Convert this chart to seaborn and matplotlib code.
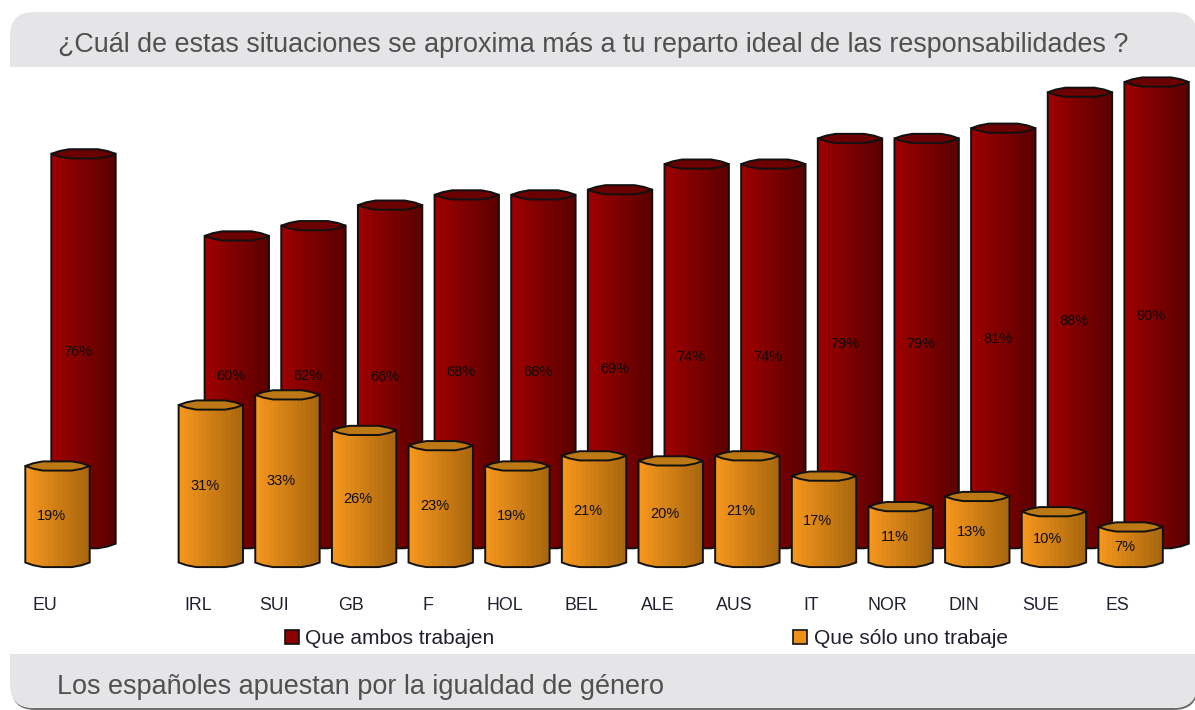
import numpy as np
import pandas as pd
import matplotlib
matplotlib.use("Agg")
import matplotlib.pyplot as plt
import seaborn as sns
from matplotlib.patches import FancyBboxPatch, Rectangle, PathPatch, Polygon, Patch
from matplotlib.path import Path
from matplotlib.colors import LinearSegmentedColormap
from matplotlib.transforms import ScaledTranslation

# ---- data ----
categories = ["EU", " ", "IRL", "SUI", "GB", "F", "HOL", "BEL", "ALE", "AUS", "IT", "NOR", "DIN", "SUE", "ES"]
ambos = [76, None, 60, 62, 66, 68, 68, 69, 74, 74, 79, 79, 81, 88, 90]
uno = [19, None, 31, 33, 26, 23, 19, 21, 20, 21, 17, 11, 13, 10, 7]
series_names = ["Que ambos trabajen", "Que sólo uno trabaje"]
title_text = "¿Cuál de estas situaciones se aproxima más a tu reparto ideal de las responsabilidades ?"
footer_text = "Los españoles apuestan por la igualdad de género"

# label lifts (points) for the back series where the original moved labels clear of the front bars
back_label_lift = {"IRL": 12, "SUI": 8}

W, H = 1195, 710
sns.set_theme(style="white")
plt.rcParams["font.family"] = ["Liberation Sans", "DejaVu Sans"]
fig = plt.figure(figsize=(W / 100, H / 100), dpi=100, facecolor="white")

# ---- card chrome (pixel space) ----
bg = fig.add_axes([0, 0, 1, 1], zorder=0)
bg.set_xlim(0, W); bg.set_ylim(H, 0); bg.axis("off")
style = "round,pad=0,rounding_size=24"
bg.add_patch(FancyBboxPatch((11, 14), 1187, 696, boxstyle=style, fc="#6f6f6f", ec="none"))
card = FancyBboxPatch((10, 12), 1187, 696, boxstyle=style, fc="white", ec="none")
bg.add_patch(card)
for y0, y1 in ((12, 67), (654, 708)):
    r = Rectangle((0, y0), W, y1 - y0, fc="#e5e5e7", ec="none")
    bg.add_patch(r)
    r.set_clip_path(card)
bg.text(58, 44.5, title_text, fontsize=19.32, color="#505050", va="center", ha="left")
bg.text(57, 686.5, footer_text, fontsize=19.45, color="#505050", va="center", ha="left")

SLOT = 76.65
CAP = 4.6
LOW = 3  # data units kept below zero so the rounded foot of each cylinder stays inside the axes
RIM_X = np.array([1, .75, .45, -.45, -.75, -1])
RIM_Y = np.array([0, .6, 1, 1, .6, 0])


def series_axes(center0, base_px, px_per_unit, z):
    left = center0 - SLOT / 2
    height = (100 + LOW) * px_per_unit
    bottom_px = base_px + LOW * px_per_unit
    ax = fig.add_axes([left / W, (H - bottom_px) / H, SLOT * len(categories) / W, height / H], zorder=z)
    ax.patch.set_alpha(0)
    return ax


def draw_series(ax, values, c_left, c_right, c_cap, unit, lifts, dx, dy_label):
    df = pd.DataFrame({"cat": categories, "val": values}).dropna()
    sns.barplot(data=df, x="cat", y="val", order=categories, color=c_left, width=0.84,
                ax=ax, saturation=1, errorbar=None)
    ax.set_xlabel(""); ax.set_ylabel("")
    sns.despine(ax=ax, left=True, bottom=True)
    ax.set_yticks([])
    ax.grid(False)
    cmap = LinearSegmentedColormap.from_list("c", [c_left, c_right])
    grad = np.linspace(0, 1, 14).reshape(1, -1)
    dy = CAP / unit
    for p in ax.patches:
        x0, w, h = p.get_x(), p.get_width(), p.get_height()
        xc = x0 + w / 2
        p.set_visible(False)
        bot = [(xc + w / 2 * a, -dy * b) for a, b in zip(RIM_X[::-1], RIM_Y[::-1])]
        verts = [(x0, h)] + bot + [(x0 + w, h), (x0, h)]
        codes = [Path.MOVETO] + [Path.LINETO] * (len(verts) - 2) + [Path.CLOSEPOLY]
        body = PathPatch(Path(verts, codes), fc="none", ec="#111111", lw=1.4, zorder=3, clip_on=False)
        ax.add_patch(body)
        im = ax.imshow(grad, extent=(x0, x0 + w, -2 * dy, h), aspect="auto", cmap=cmap,
                       interpolation="nearest", zorder=2)
        im.set_clip_path(body)
        rim = [(xc + w / 2 * a, h - dy * b) for a, b in zip(RIM_X, RIM_Y)] + \
              [(xc + w / 2 * a, h + dy * b) for a, b in zip(RIM_X[::-1], RIM_Y[::-1])]
        ax.add_patch(Polygon(rim, closed=True, fc=c_cap, ec="#111111", lw=1.4, zorder=4, clip_on=False))
    ax.set_xlim(-0.5, len(categories) - 0.5)
    ax.set_ylim(-LOW, 100)
    labels = ax.bar_label(ax.containers[0], fmt="%d%%", label_type="center",
                          fontsize=10.5, color="#0c0c0c", zorder=6)
    names = df["cat"].tolist()
    for t, name in zip(labels, names):
        t.xyann = (dx, dy_label + lifts.get(name, 0))
        t.set_zorder(6)


back = series_axes(83.5, 543.7, 5.13, 1)
draw_series(back, ambos, "#9c0000", "#5c0000", "#6a0000", 5.13, back_label_lift, -4, -2)
back.set_xticks([])

front = series_axes(57.5, 562.5, 5.08, 2)
draw_series(front, uno, "#f5961c", "#a9670f", "#bb7814", 5.08, {}, -4.5, -1.5)
front.tick_params(axis="x", length=0, pad=14, labelsize=12.8, colors="#20202e")
offset = ScaledTranslation(-13 / 100, 0, fig.dpi_scale_trans)
for lab in front.get_xticklabels():
    lab.set_transform(lab.get_transform() + offset)

# ---- legend ----
handles = [Patch(fc="#8b0000", ec="#111111", lw=1.2), Patch(fc="#ee9018", ec="#111111", lw=1.2)]
leg = fig.legend(handles, series_names, ncol=2, frameon=False, fontsize=15,
                 loc="center left", bbox_to_anchor=(285 / W, (H - 638.5) / H),
                 handlelength=0.67, handleheight=0.67, handletextpad=0.3, columnspacing=14.35,
                 labelcolor="#20202e", borderpad=0, borderaxespad=0)
leg.set_zorder(10)

fig.savefig("out.png", dpi=100)
